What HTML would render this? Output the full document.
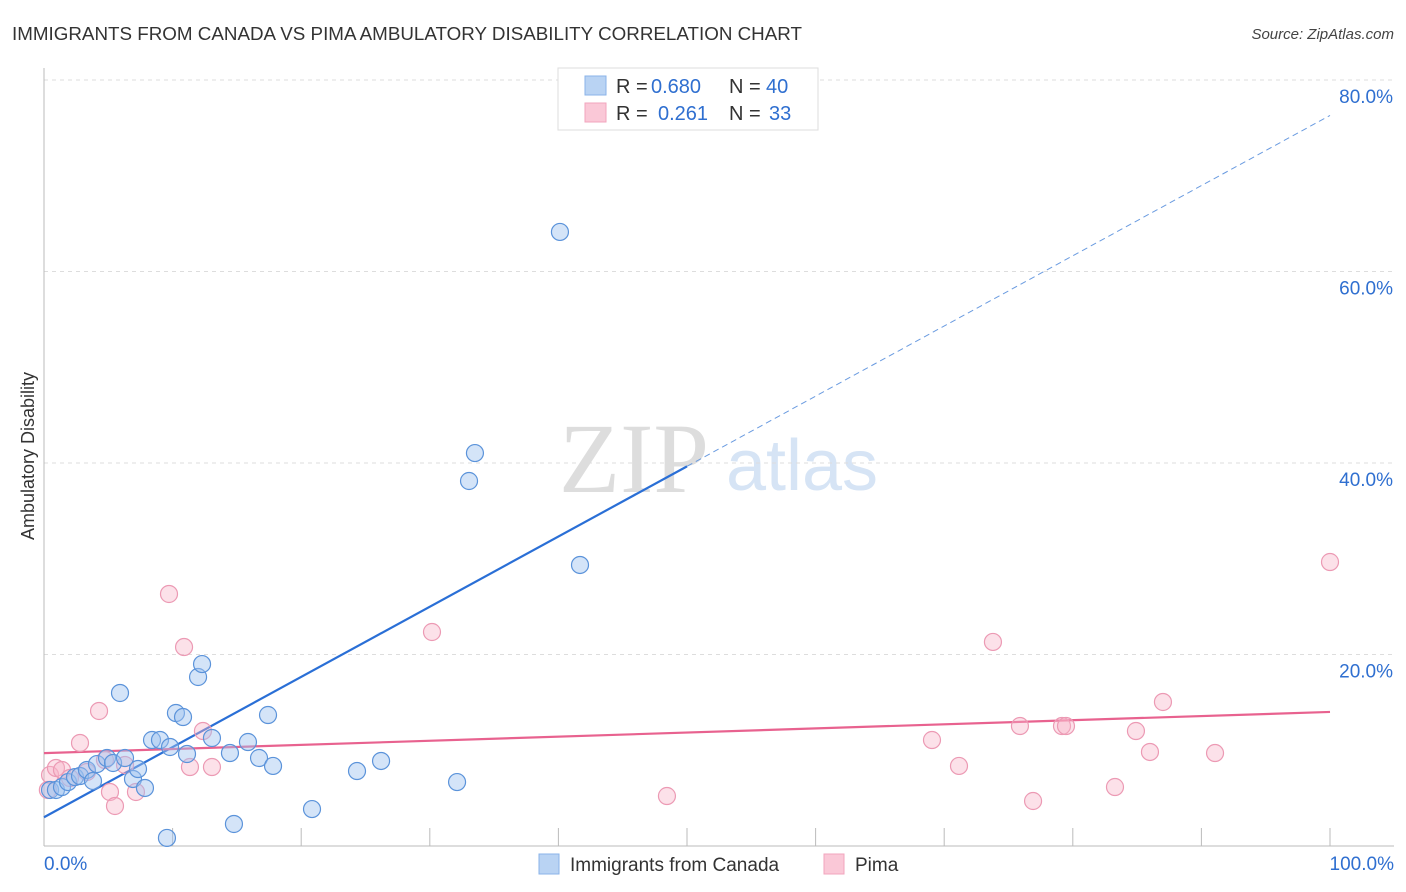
<!DOCTYPE html>
<html><head><meta charset="utf-8"><style>
body{margin:0;background:#fff;font-family:"Liberation Sans",sans-serif;}
svg{display:block}
</style></head><body>
<svg id="chart" width="1406" height="892">
<text x="12" y="40" font-size="18" fill="#333" textLength="790" lengthAdjust="spacingAndGlyphs">IMMIGRANTS FROM CANADA VS PIMA AMBULATORY DISABILITY CORRELATION CHART</text>
<text x="1394" y="39" font-size="15" fill="#444" font-style="italic" text-anchor="end">Source: ZipAtlas.com</text>
<text transform="translate(34,456) rotate(-90)" font-size="18" fill="#333" text-anchor="middle">Ambulatory Disability</text>
<g>
<text x="634" y="492" font-size="100" fill="#ddd" font-family="Liberation Serif,serif" text-anchor="middle">ZIP</text>
<text x="802" y="490" font-size="72" fill="#d6e4f5" text-anchor="middle">atlas</text>
</g>
<g id="grid"></g><g id="axes"></g><g id="lines"></g><g id="points"></g>
<g>
<rect x="558" y="68" width="260" height="62" fill="#fff" stroke="#ddd"/>
<rect x="585" y="76" width="21" height="19" fill="#b9d3f3" stroke="#8ab3e8"/>
<rect x="585" y="103" width="21" height="19" fill="#fac8d7" stroke="#f2a5bd"/>
<text x="616" y="93" font-size="20" fill="#333">R =</text>
<text x="651" y="93" font-size="20" fill="#2f6fd0">0.680</text>
<text x="729" y="93" font-size="20" fill="#333">N =</text>
<text x="766" y="93" font-size="20" fill="#2f6fd0">40</text>
<text x="616" y="120" font-size="20" fill="#333">R =</text>
<text x="658" y="120" font-size="20" fill="#2f6fd0">0.261</text>
<text x="729" y="120" font-size="20" fill="#333">N =</text>
<text x="769" y="120" font-size="20" fill="#2f6fd0">33</text>
</g>
<g>
<rect x="539" y="854" width="20" height="20" fill="#b9d3f3" stroke="#8ab3e8"/>
<text x="570" y="871" font-size="19" fill="#333">Immigrants from Canada</text>
<rect x="824" y="854" width="20" height="20" fill="#fac8d7" stroke="#f2a5bd"/>
<text x="855" y="871" font-size="19" fill="#333">Pima</text>
</g>
</svg>
<script>
const blueX=[0.47,0.93,1.4,1.87,2.41,2.8,3.34,3.81,4.12,4.9,5.37,6.3,5.91,6.92,7.31,7.85,8.4,9.02,9.8,9.56,10.26,10.81,11.12,11.98,12.29,13.06,14.46,14.77,15.86,16.72,17.42,17.81,20.84,24.34,26.21,32.12,33.05,33.51,40.12,41.68];
const blueY=[5.85,5.85,6.16,6.68,7.2,7.31,7.94,6.79,8.56,9.19,8.67,9.19,15.98,7.0,8.04,6.06,11.07,11.07,10.34,0.84,13.89,13.47,9.61,17.65,19.0,11.28,9.71,2.3,10.86,9.19,13.68,8.36,3.86,7.83,8.88,6.68,38.12,41.04,64.13,29.35];
const pinkX=[0.47,0.93,1.4,2.02,2.8,3.34,4.28,4.74,5.13,5.52,6.3,7.15,9.72,10.89,11.35,12.36,13.06,30.17,48.44,69.05,71.15,73.79,75.89,76.91,79.16,79.47,83.28,84.91,86.0,87.01,91.06,100,0.3];
const pinkY=[7.42,8.15,7.94,7.1,10.76,7.73,14.1,8.98,5.64,4.18,8.46,5.64,26.32,20.78,8.25,12.01,8.25,22.35,5.22,11.07,8.36,21.31,12.53,4.7,12.53,12.53,6.16,12.01,9.82,15.04,9.71,29.66,5.85];
const yTicks=[20,40,60,80];
const yTickLabels=["20.0%","40.0%","60.0%","80.0%"];
const xTickLabels=["0.0%","100.0%"];
const blueTrend=[3.0,0.733];
const pinkTrend=[9.7,0.043];
const NS="http://www.w3.org/2000/svg";
const sx=v=>44+v*12.86, sy=v=>846-v*9.575;
function mk(parent,tag,attrs){const e=document.createElementNS(NS,tag);for(const k in attrs)e.setAttribute(k,attrs[k]);document.getElementById(parent).appendChild(e);return e;}
yTicks.forEach((t,i)=>{
 const l=mk('grid','line',{x1:44,x2:1394,y1:sy(t),y2:sy(t),stroke:'#ddd','stroke-dasharray':'4,4'});
 
 
 const tx=mk('grid','text',{x:1393,y:sy(t)+23,'font-size':19,fill:'#2f6fd0','text-anchor':'end'});
 tx.textContent=yTickLabels[i];
 
 
});
const a1=mk('axes','line',{x1:44,x2:44,y1:68,y2:846,stroke:'#bbb'});


const a2=mk('axes','line',{x1:44,x2:1394,y1:846,y2:846,stroke:'#bbb'});


for(let i=1;i<=10;i++){const t=mk('axes','line',{x1:sx(i*10),x2:sx(i*10),y1:828,y2:846,stroke:'#bbb'});
 
 }
[[0,'start',44],[100,'end',1394]].forEach((d,i)=>{const t=mk('axes','text',{x:d[2],y:870,'font-size':19,fill:'#2f6fd0','text-anchor':d[1]});t.textContent=xTickLabels[i];
 
 });
function pt(xs,ys,fill,stroke,name){xs.forEach((x,i)=>{const c=mk('points','circle',{cx:sx(x),cy:sy(ys[i]),r:8.5,fill:fill,stroke:stroke,'stroke-width':1.2});
 
 });}
pt(pinkX,pinkY,'rgba(248,180,200,0.4)','#ec9ab4','pima-point');
pt(blueX,blueY,'rgba(160,196,240,0.45)','#5b93da','canada-point');
const bEnd=50;
const bl=mk('lines','line',{x1:sx(0),y1:sy(blueTrend[0]),x2:sx(bEnd),y2:sy(blueTrend[0]+blueTrend[1]*bEnd),stroke:'#2a6fd6','stroke-width':2.2});


const bd=mk('lines','line',{x1:sx(bEnd),y1:sy(blueTrend[0]+blueTrend[1]*bEnd),x2:sx(100),y2:sy(blueTrend[0]+blueTrend[1]*100),stroke:'#6a9be0','stroke-width':1,'stroke-dasharray':'6,4'});


const pl=mk('lines','line',{x1:sx(0),y1:sy(pinkTrend[0]),x2:sx(100),y2:sy(pinkTrend[0]+pinkTrend[1]*100),stroke:'#e8628f','stroke-width':2.2});


</script>
</body></html>
